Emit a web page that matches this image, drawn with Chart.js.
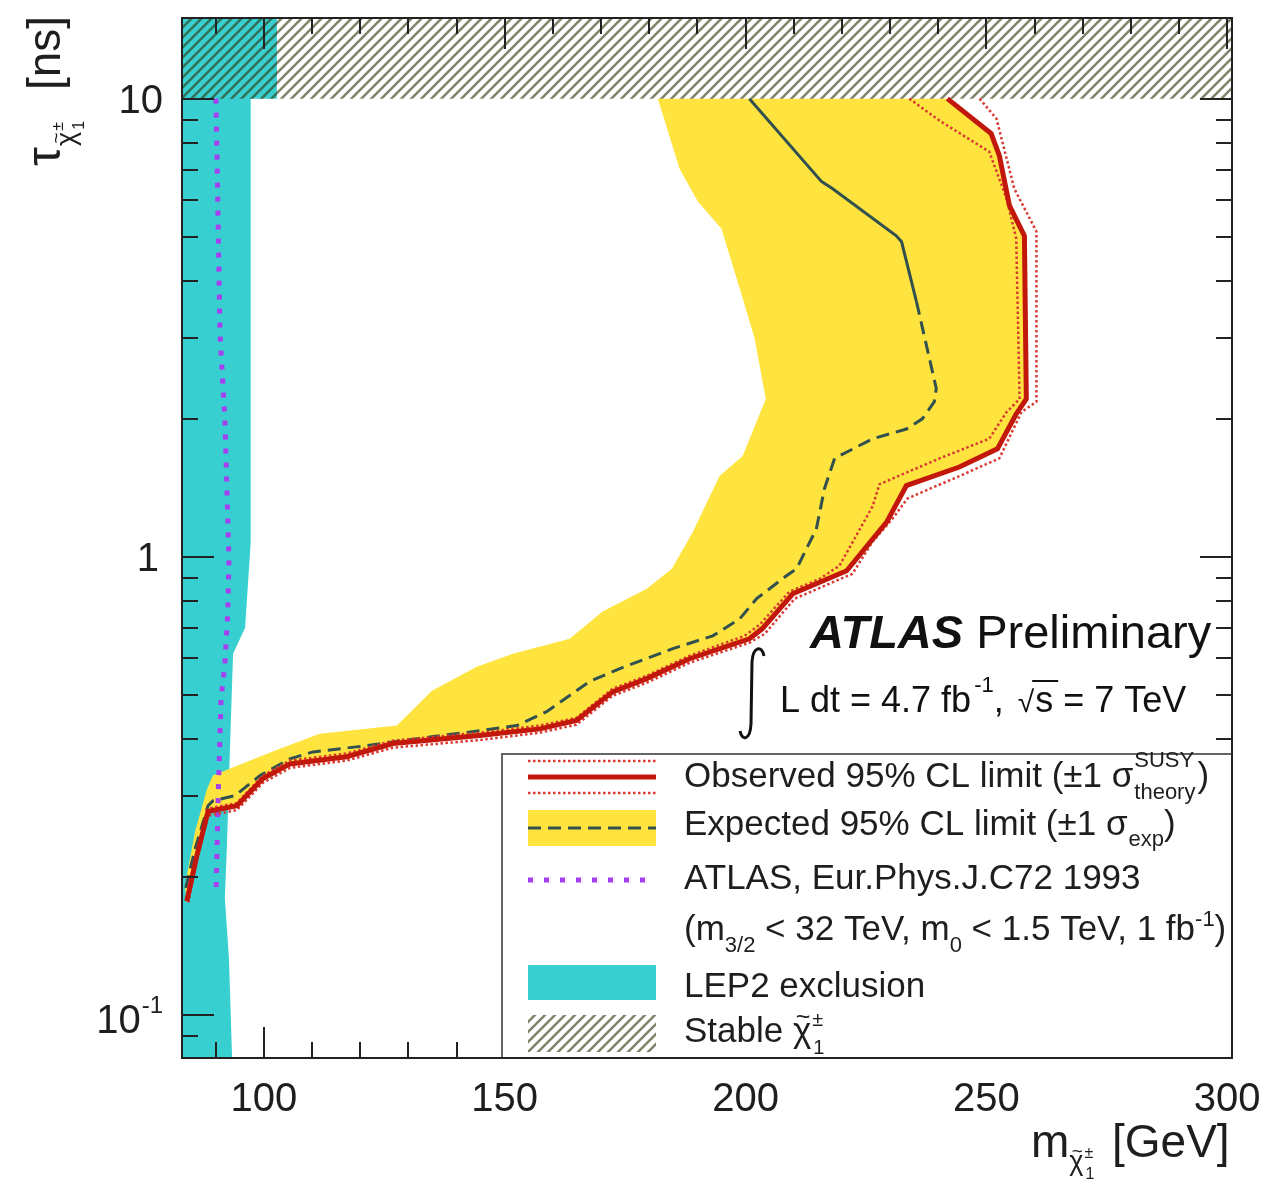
<!DOCTYPE html>
<html>
<head>
<meta charset="utf-8">
<title>Chargino lifetime vs mass limit</title>
<script src="https://cdn.jsdelivr.net/npm/chart.js@4.4.1/dist/chart.umd.min.js"></script>
<style>
  html, body { margin: 0; padding: 0; background: #fff; }
  #wrap { width: 1272px; height: 1190px; }
</style>
</head>
<body>
<div id="wrap"><canvas id="limitChart" width="1272" height="1190"></canvas></div>
<script>
const FONT = '"Liberation Sans", Arial, Helvetica, sans-serif';

// axis ranges and ticks
const massRange = [83, 301];
const tauRange = [0.0805, 15];
const massMajorTicks = [100, 150, 200, 250, 300];
const massTickLabels = ['100', '150', '200', '250', '300'];
const massMinorTicks = [90, 110, 120, 130, 140, 160, 170, 180, 190, 210, 220, 230, 240, 260, 270, 280, 290];
const tauMajorTicks = [0.1, 1, 10];
const tauMinorTicks = [0.09, 0.2, 0.3, 0.4, 0.5, 0.6, 0.7, 0.8, 0.9, 2, 3, 4, 5, 6, 7, 8, 9];

// observed 95% CL limit, traced from the top (10 ns) down
const obsMass = [241.9, 251.0, 252.7, 254.8, 257.9, 258.3, 256.2, 252.3, 244.4, 233.4, 229.3, 221.0, 209.8, 203.5, 200.8, 188.4, 179.5, 172.4, 164.9, 157.3, 144.8, 126.8, 117.2, 105.4, 99.8, 94.4, 88.4, 86.1, 84.0];
const obsTau = [10, 8.39, 7.51, 5.84, 5.02, 2.21, 2.05, 1.72, 1.57, 1.43, 1.19, 0.932, 0.830, 0.697, 0.662, 0.599, 0.542, 0.507, 0.439, 0.421, 0.407, 0.391, 0.366, 0.353, 0.328, 0.286, 0.278, 0.223, 0.177];

// observed +1 sigma theory (outer dotted)
const obsUpMass = [248.6, 252.1, 255.8, 260.4, 260.4, 257.3, 252.7, 244.4, 233.6, 230.5, 226.4, 222.2, 210.2, 204.0, 200.8, 188.4, 179.5, 172.4, 164.9, 157.3, 144.8, 126.8, 117.2, 105.4, 99.8, 94.4, 88.4, 86.1, 84.2];
const obsUpTau = [10, 9.04, 6.36, 5.13, 2.18, 2.07, 1.64, 1.50, 1.34, 1.21, 1.08, 0.918, 0.810, 0.679, 0.649, 0.587, 0.531, 0.497, 0.430, 0.413, 0.398, 0.383, 0.359, 0.346, 0.321, 0.280, 0.272, 0.218, 0.174];

// observed -1 sigma theory (inner dotted)
const obsDownMass = [234.0, 240.3, 250.6, 254.2, 256.2, 256.9, 254.2, 250.6, 240.3, 227.8, 226.4, 219.5, 215.4, 209.1, 202.9, 199.8, 188.4, 179.5, 172.4, 164.9, 157.3, 144.8, 126.8, 117.2, 105.4, 99.8, 94.4, 88.4, 86.1, 83.8];
const obsDownTau = [10, 8.95, 7.66, 6.05, 4.95, 2.21, 2.07, 1.81, 1.64, 1.44, 1.29, 0.956, 0.895, 0.839, 0.710, 0.672, 0.608, 0.550, 0.515, 0.445, 0.428, 0.413, 0.397, 0.372, 0.359, 0.333, 0.290, 0.282, 0.227, 0.179];

// expected 95% CL limit
const expMass = [200.8, 215.8, 218.1, 231.3, 232.4, 235.5, 239.6, 239.2, 236.7, 233.4, 226.4, 218.5, 216.4, 214.7, 210.6, 208.5, 202.3, 198.8, 193.2, 184.9, 173.9, 167.6, 158.7, 152.5, 144.8, 135.1, 121.4, 110.2, 105.4, 99.2, 94.0, 89.4, 88.4, 85.7, 83.6];
const expTau = [10, 6.59, 6.36, 5.02, 4.87, 3.60, 2.33, 2.18, 2.00, 1.90, 1.81, 1.64, 1.41, 1.15, 0.942, 0.909, 0.810, 0.732, 0.672, 0.630, 0.570, 0.534, 0.459, 0.428, 0.417, 0.405, 0.387, 0.375, 0.362, 0.333, 0.301, 0.293, 0.286, 0.230, 0.186];

// expected +-1 sigma band: low-mass edge and high-mass edge, both top to bottom
const bandLowMass = [181.8, 186.3, 190.1, 195.0, 198.8, 201.9, 204.2, 199.4, 194.6, 189.0, 184.7, 179.5, 170.3, 163.5, 151.7, 144.2, 134.9, 127.6, 111.6, 103.3, 96.5, 89.4, 88.2, 85.7, 83.6];
const bandLowTau = [10, 7.03, 5.96, 5.20, 3.85, 2.99, 2.21, 1.66, 1.50, 1.13, 0.942, 0.851, 0.759, 0.662, 0.614, 0.575, 0.510, 0.428, 0.411, 0.381, 0.357, 0.333, 0.311, 0.251, 0.191];
const bandHighMass = [241.9, 251.0, 252.7, 254.8, 257.7, 258.1, 256.0, 252.1, 244.4, 233.2, 229.1, 220.8, 209.8, 203.5, 200.8, 188.4, 179.5, 172.4, 164.9, 157.3, 144.8, 126.8, 117.2, 105.4, 99.8, 94.4, 88.4, 86.1, 84.0];
const bandHighTau = [10, 8.39, 7.51, 5.84, 5.02, 2.21, 2.05, 1.72, 1.57, 1.43, 1.19, 0.93, 0.83, 0.70, 0.66, 0.60, 0.54, 0.51, 0.44, 0.42, 0.405, 0.39, 0.365, 0.352, 0.327, 0.286, 0.277, 0.222, 0.176];

// ATLAS, Eur.Phys.J.C72 1993
const prevMass = [90.05, 90.9, 91.9, 92.75, 92.5, 91.9, 91.1, 90.5, 90.05];
const prevTau = [10, 3.05, 2.0, 0.985, 0.755, 0.581, 0.49, 0.296, 0.182];

// LEP2 exclusion outline (closed shape)
const lepMass = [80, 102.7, 102.7, 97.25, 97.25, 96.1, 93.6, 93.0, 92.3, 91.9, 92.75, 93.4, 93.4, 80];
const lepTau = [20, 20, 10, 10, 1.07, 0.70, 0.614, 0.393, 0.230, 0.180, 0.1325, 0.0805, 0.07, 0.07];

// stable chargino region (closed shape)
const stableMass = [80, 310, 310, 80];
const stableTau = [10, 10, 20, 20];

function series(mass, tau) {
  return mass.map((m, i) => ({ x: m, y: tau[i] }));
}

// hatch pattern for the stable region
function makeHatch() {
  const c = document.createElement('canvas');
  c.width = 10;
  c.height = 10;
  const g = c.getContext('2d');
  g.strokeStyle = 'rgba(50,50,12,0.6)';
  g.lineWidth = 2.6;
  g.beginPath();
  g.moveTo(-2, 12); g.lineTo(12, -2);
  g.moveTo(-2, 2); g.lineTo(2, -2);
  g.moveTo(8, 12); g.lineTo(12, 8);
  g.stroke();
  return g.createPattern(c, 'repeat');
}
const hatch = makeHatch();

const COL_OBS = '#c2180c';
const COL_OBS_DOT = '#d83a32';
const COL_EXP = '#32504e';
const COL_BAND = '#ffe43f';
const COL_PREV = '#a53ff0';
const COL_LEP = '#38cfd0';

const bandPoly = series(bandLowMass, bandLowTau)
  .concat(series(bandHighMass, bandHighTau).reverse());

const datasets = [
  { label: 'Observed', data: series(obsMass, obsTau), borderColor: COL_OBS, borderWidth: 5, order: 1 },
  { label: 'Observed +1s', data: series(obsUpMass, obsUpTau), borderColor: COL_OBS_DOT, borderWidth: 2.5, borderDash: [2.5, 2.5], order: 2 },
  { label: 'Observed -1s', data: series(obsDownMass, obsDownTau), borderColor: COL_OBS_DOT, borderWidth: 2.5, borderDash: [2.5, 2.5], order: 2 },
  {
    label: 'Expected', data: series(expMass, expTau), borderColor: COL_EXP, borderWidth: 3, borderDash: [13, 7], order: 3,
    segment: { borderDash: c => (Math.min(c.p0.parsed.y, c.p1.parsed.y) >= 3.5 ? [] : [13, 7]) }
  },
  { label: 'ATLAS 2012', data: series(prevMass, prevTau), borderColor: COL_PREV, borderWidth: 5, borderDash: [5, 9], order: 4 },
  { label: 'Stable', data: series(stableMass, stableTau), borderColor: 'transparent', borderWidth: 0, backgroundColor: hatch, fill: 'shape', order: 5 },
  { label: 'Expected band', data: bandPoly, borderColor: 'transparent', borderWidth: 0, backgroundColor: COL_BAND, fill: 'shape', order: 6 },
  { label: 'LEP2', data: series(lepMass, lepTau), borderColor: 'transparent', borderWidth: 0, backgroundColor: COL_LEP, fill: 'shape', order: 7 }
];
datasets.forEach(d => {
  d.showLine = true;
  d.pointRadius = 0;
  d.tension = 0;
  if (!d.fill) d.fill = false;
});

// draw text pieces one after another, returns end x
function runs(ctx, x, y, parts) {
  parts.forEach(p => {
    ctx.font = (p.style || '') + ' ' + p.size + 'px ' + FONT;
    ctx.fillText(p.t, x, y + (p.dy || 0));
    x += ctx.measureText(p.t).width + (p.gap || 0);
  });
  return x;
}

// chargino symbol with tilde, +- and subscript 1
function drawChi(ctx, x, y, size) {
  ctx.font = size + 'px ' + FONT;
  const w = ctx.measureText('χ').width;
  ctx.fillText('χ', x, y);
  ctx.font = Math.round(size * 0.7) + 'px ' + FONT;
  const tw = ctx.measureText('~').width;
  ctx.fillText('~', x + (w - tw) / 2 + 1, y - size * 0.5);
  ctx.font = Math.round(size * 0.58) + 'px ' + FONT;
  ctx.fillText('±', x + w + 1, y - size * 0.45);
  ctx.fillText('1', x + w + 2, y + size * 0.35);
  return x + w + 2 + ctx.measureText('±').width;
}

// frame and ROOT style ticks
const frameAndTicks = {
  id: 'frameAndTicks',
  afterDatasetsDraw(chart) {
    const { ctx, chartArea: a, scales: { x, y } } = chart;
    ctx.save();
    ctx.strokeStyle = '#222';
    ctx.lineWidth = 2;
    ctx.beginPath();
    const xTick = (v, len) => {
      const px = Math.round(x.getPixelForValue(v));
      ctx.moveTo(px, a.bottom); ctx.lineTo(px, a.bottom - len);
      ctx.moveTo(px, a.top); ctx.lineTo(px, a.top + len);
    };
    const yTick = (v, len) => {
      const py = Math.round(y.getPixelForValue(v));
      ctx.moveTo(a.left, py); ctx.lineTo(a.left + len, py);
      ctx.moveTo(a.right, py); ctx.lineTo(a.right - len, py);
    };
    massMajorTicks.forEach(v => xTick(v, 31));
    massMinorTicks.forEach(v => xTick(v, 16));
    tauMajorTicks.forEach(v => yTick(v, 32));
    tauMinorTicks.forEach(v => yTick(v, 16));
    ctx.stroke();
    ctx.restore();
  }
};

// legend, labels and annotations
const labelsPlugin = {
  id: 'labelsPlugin',
  afterDraw(chart) {
    const { ctx, chartArea: a, scales: { x, y } } = chart;
    ctx.save();

    // legend box
    const lx = 502, ly = 754;
    ctx.fillStyle = '#fff';
    ctx.fillRect(lx, ly, a.right - lx, a.bottom - ly);
    ctx.strokeStyle = '#666';
    ctx.lineWidth = 2;
    ctx.strokeRect(lx, ly, a.right - lx, a.bottom - ly);

    // frame on top
    ctx.strokeStyle = '#222';
    ctx.strokeRect(a.left, a.top, a.right - a.left, a.bottom - a.top);

    const sx0 = 528, sx1 = 656;
    const line = (yy, color, width, dash) => {
      ctx.beginPath();
      ctx.strokeStyle = color;
      ctx.lineWidth = width;
      ctx.setLineDash(dash);
      ctx.moveTo(sx0, yy);
      ctx.lineTo(sx1, yy);
      ctx.stroke();
      ctx.setLineDash([]);
    };
    line(761, COL_OBS_DOT, 2.5, [2.5, 2.5]);
    line(777, COL_OBS, 5, []);
    line(793, COL_OBS_DOT, 2.5, [2.5, 2.5]);
    ctx.fillStyle = COL_BAND;
    ctx.fillRect(sx0, 810, sx1 - sx0, 36);
    line(828, COL_EXP, 3, [13, 7]);
    line(880, COL_PREV, 5, [5, 11]);
    ctx.fillStyle = COL_LEP;
    ctx.fillRect(sx0, 965, sx1 - sx0, 35);
    ctx.fillStyle = hatch;
    ctx.fillRect(sx0, 1015, sx1 - sx0, 37);

    ctx.fillStyle = '#1e1e1e';
    ctx.textBaseline = 'alphabetic';
    ctx.textAlign = 'left';
    const tx = 684;
    let ex = runs(ctx, tx, 787, [{ t: 'Observed 95% CL limit (±1 σ', size: 35, gap: 1 }]);
    ctx.font = '22px ' + FONT;
    ctx.fillText('SUSY', ex, 767);
    ctx.fillText('theory', ex, 799);
    ex += ctx.measureText('theory').width + 2;
    runs(ctx, ex, 787, [{ t: ')', size: 35 }]);

    runs(ctx, tx, 835, [
      { t: 'Expected 95% CL limit (±1 σ', size: 35, gap: 1 },
      { t: 'exp', size: 22, dy: 11 },
      { t: ')', size: 35 }
    ]);
    runs(ctx, tx, 889, [{ t: 'ATLAS, Eur.Phys.J.C72 1993', size: 35 }]);
    runs(ctx, tx, 940, [
      { t: '(m', size: 35 },
      { t: '3/2', size: 22, dy: 12 },
      { t: ' < 32 TeV, m', size: 35 },
      { t: '0', size: 22, dy: 12 },
      { t: ' < 1.5 TeV, 1 fb', size: 35 },
      { t: '-1', size: 22, dy: -14 },
      { t: ')', size: 35 }
    ]);
    runs(ctx, tx, 997, [{ t: 'LEP2 exclusion', size: 35 }]);
    ex = runs(ctx, tx, 1042, [{ t: 'Stable ', size: 35 }]);
    drawChi(ctx, ex, 1042, 35);

    // ATLAS Preliminary
    ctx.fillStyle = '#111';
    runs(ctx, 810, 648, [
      { t: 'ATLAS', size: 47, style: 'italic bold' },
      { t: ' Preliminary', size: 47 }
    ]);

    // integral sign
    ctx.strokeStyle = '#111';
    ctx.lineWidth = 3;
    ctx.beginPath();
    ctx.moveTo(764, 656);
    ctx.bezierCurveTo(762, 645, 753, 646, 752, 662);
    ctx.lineTo(751, 724);
    ctx.bezierCurveTo(750, 741, 742, 741, 740, 731);
    ctx.stroke();

    ex = runs(ctx, 780, 712, [
      { t: 'L dt = 4.7 fb', size: 36, gap: 3 },
      { t: '-1', size: 22, dy: -20 },
      { t: ', ', size: 36, gap: 4 },
      { t: '√', size: 30 }
    ]);
    ctx.lineWidth = 2;
    ctx.beginPath();
    ctx.moveTo(ex - 2, 681);
    ctx.lineTo(ex + 24, 681);
    ctx.stroke();
    runs(ctx, ex + 1, 712, [{ t: 's = 7 TeV', size: 36 }]);

    // x tick labels
    ctx.fillStyle = '#1e1e1e';
    ctx.textAlign = 'center';
    ctx.font = '40px ' + FONT;
    massMajorTicks.forEach((v, i) => {
      ctx.fillText(massTickLabels[i], x.getPixelForValue(v), 1111);
    });

    // y tick labels (right aligned)
    ctx.textAlign = 'right';
    const yLab = 163;
    ctx.fillText('10', yLab, y.getPixelForValue(10) + 14);
    ctx.fillText('1', yLab - 4, y.getPixelForValue(1) + 14);
    ctx.font = '24px ' + FONT;
    const supW = ctx.measureText('-1').width;
    ctx.fillText('-1', yLab, y.getPixelForValue(0.1) - 2);
    ctx.font = '40px ' + FONT;
    ctx.fillText('10', yLab - supW - 1, y.getPixelForValue(0.1) + 18);

    // x axis title
    ctx.textAlign = 'left';
    ex = runs(ctx, 1031, 1157, [{ t: 'm', size: 46 }]);
    drawChi(ctx, ex, 1170, 27);
    runs(ctx, 1112, 1157, [{ t: '[GeV]', size: 46 }]);

    // y axis title, rotated
    ctx.translate(60, 166);
    ctx.rotate(-Math.PI / 2);
    ex = runs(ctx, 0, 0, [{ t: 'τ', size: 48, gap: 1 }]);
    drawChi(ctx, ex, 15, 27);
    runs(ctx, 76, 0, [{ t: '[ns]', size: 46 }]);

    ctx.restore();
  }
};

const ctxEl = document.getElementById('limitChart');
new Chart(ctxEl, {
  type: 'scatter',
  data: { datasets: datasets },
  options: {
    responsive: false,
    animation: false,
    devicePixelRatio: 1,
    events: [],
    layout: { padding: { left: 182, top: 18, right: 40, bottom: 132 } },
    scales: {
      x: { type: 'linear', display: false, bounds: 'data', min: massRange[0], max: massRange[1] },
      y: { type: 'logarithmic', display: false, bounds: 'data', min: tauRange[0], max: tauRange[1] }
    },
    plugins: {
      legend: { display: false },
      tooltip: { enabled: false }
    }
  },
  plugins: [frameAndTicks, labelsPlugin]
});
</script>
</body>
</html>
